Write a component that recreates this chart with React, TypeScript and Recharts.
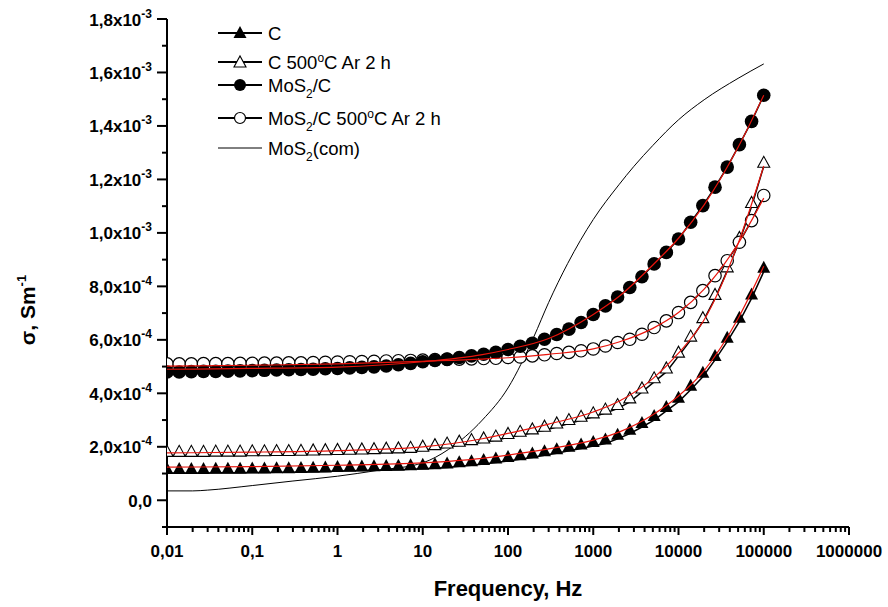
import React from 'react';
import { ComposedChart, Line, XAxis, YAxis, Legend } from 'recharts';

// measured frequency points, Hz (7 per decade)
const freq = [
  0.01, 0.0139, 0.0193, 0.0268, 0.0373, 0.0518, 0.072,
  0.1, 0.139, 0.193, 0.268, 0.373, 0.518, 0.72,
  1, 1.39, 1.93, 2.68, 3.73, 5.18, 7.2,
  10, 13.9, 19.3, 26.8, 37.3, 51.8, 72,
  100, 139, 193, 268, 373, 518, 720,
  1000, 1389, 1931, 2683, 3728, 5179, 7197,
  10000, 13895, 19307, 26827, 37276, 51795, 71969,
  100000,
];

// conductivity, x1e-4 S/m
const sigmaC = [
  1.02, 1.02, 1.02, 1.02, 1.03, 1.03, 1.03,
  1.04, 1.04, 1.05, 1.05, 1.06, 1.07, 1.08,
  1.09, 1.1, 1.11, 1.12, 1.13, 1.14, 1.16,
  1.18, 1.2, 1.23, 1.27, 1.31, 1.36, 1.41,
  1.47, 1.53, 1.6, 1.68, 1.76, 1.85, 1.94,
  2.03, 2.12, 2.3, 2.49, 2.74, 3.0, 3.34,
  3.68, 4.13, 4.62, 5.25, 5.93, 6.68, 7.55,
  8.55,
];
const sigmaC500 = [
  1.68, 1.68, 1.68, 1.68, 1.69, 1.69, 1.69,
  1.7, 1.7, 1.71, 1.71, 1.72, 1.73, 1.74,
  1.75, 1.76, 1.77, 1.78, 1.8, 1.81, 1.83,
  1.87, 1.93, 1.99, 2.06, 2.12, 2.18, 2.25,
  2.35, 2.43, 2.52, 2.62, 2.74, 2.87, 2.99,
  3.12, 3.26, 3.43, 3.68, 4.05, 4.43, 4.8,
  5.39, 5.99, 6.68, 7.55, 8.58, 9.68, 10.99,
  12.49,
];
const sigmaMoS2C = [
  4.8, 4.8, 4.81, 4.82, 4.82, 4.83, 4.84,
  4.85, 4.86, 4.87, 4.88, 4.89, 4.9, 4.92,
  4.93, 4.95, 4.97, 4.99, 5.02, 5.07, 5.12,
  5.18, 5.23, 5.28, 5.34, 5.4, 5.46, 5.53,
  5.64, 5.76, 5.87, 6.02, 6.2, 6.4, 6.65,
  6.95, 7.27, 7.6, 7.96, 8.36, 8.84, 9.27,
  9.77, 10.4, 11.02, 11.71, 12.46, 13.3, 14.17,
  15.15,
];
const sigmaMoS2C500 = [
  5.1, 5.1, 5.1, 5.11, 5.11, 5.11, 5.12,
  5.12, 5.13, 5.13, 5.14, 5.14, 5.15, 5.16,
  5.17, 5.18, 5.19, 5.2, 5.21, 5.22, 5.23,
  5.24, 5.26, 5.27, 5.28, 5.29, 5.3, 5.31,
  5.34, 5.36, 5.4, 5.44, 5.49, 5.53, 5.59,
  5.66, 5.77, 5.9, 6.02, 6.21, 6.46, 6.71,
  7.02, 7.4, 7.84, 8.4, 8.96, 9.65, 10.46,
  11.4,
];

// fitted curves (red)
const fitFreq = [0.01, 0.1, 1, 10, 50, 100, 300, 1000, 2000, 5000, 10000, 20000, 50000, 100000];
const fitC = [1.24, 1.26, 1.31, 1.4, 1.57, 1.69, 1.92, 2.25, 2.55, 3.2, 3.9, 4.85, 6.8, 8.75];
const fitC500 = [1.77, 1.8, 1.86, 2.0, 2.3, 2.5, 2.85, 3.3, 3.7, 4.55, 5.5, 6.75, 9.6, 12.5];
const fitMoS2C = [4.9, 4.93, 4.98, 5.18, 5.45, 5.64, 6.05, 6.95, 7.62, 8.8, 9.8, 11.05, 13.2, 15.15];
const fitMoS2C500 = [5.02, 5.05, 5.1, 5.2, 5.28, 5.33, 5.46, 5.66, 5.92, 6.43, 7.02, 7.9, 9.6, 11.3];

// commercial MoS2
const comFreq = [0.01, 0.02, 0.03, 0.1, 0.3, 1, 3, 10, 20, 50, 100, 200, 300, 500, 1000, 2000, 3000, 5000, 10000, 20000, 50000, 100000];
const comSigma = [0.35, 0.35, 0.38, 0.55, 0.72, 0.9, 1.12, 1.4, 1.9, 3.0, 4.2, 6.1, 7.4, 8.85, 10.5, 11.8, 12.49, 13.27, 14.23, 14.98, 15.78, 16.32];

const xMajor = [0.01, 0.1, 1, 10, 100, 1000, 10000, 100000, 1000000];
const xLabels = ['0,01', '0,1', '1', '10', '100', '1000', '10000', '100000', '1000000'];
const yMajor = [0, 2, 4, 6, 8, 10, 12, 14, 16, 18];
const yMantissa = ['0,0', '2,0', '4,0', '6,0', '8,0', '1,0', '1,2', '1,4', '1,6', '1,8'];
const yExponent = ['', '-4', '-4', '-4', '-4', '-3', '-3', '-3', '-3', '-3'];

const font = '"Liberation Sans", Arial, sans-serif';
const red = '#e8140c';

const toRows = (xs: number[], ys: number[]) => xs.map((f, i) => ({ f, v: ys[i] }));

const xTicks: number[] = [];
xMajor.forEach((d, i) => {
  xTicks.push(d);
  if (i < xMajor.length - 1) for (let m = 2; m < 10; m++) xTicks.push(+(d * m).toPrecision(3));
});
const yTicks: number[] = [];
for (let v = -1; v <= 18; v++) yTicks.push(v);

type Shape = 'triUp' | 'triOpen' | 'dot' | 'ring';

function Marker({ cx, cy, shape, legend }: { cx: number; cy: number; shape: Shape; legend?: boolean }) {
  if (shape === 'dot') return <circle cx={cx} cy={cy} r={legend ? 6 : 6.8} fill="#000" />;
  if (shape === 'ring') return <circle cx={cx} cy={cy} r={legend ? 5.5 : 6.2} fill="#fff" stroke="#000" strokeWidth={1.2} />;
  // triangles sit on the data point in the plot, centred in the legend
  const base = legend ? cy + 5 : cy + 1;
  const h = shape === 'triUp' ? 12 : 11;
  const w = shape === 'triUp' ? 6.5 : 6;
  const pts = `${cx - w},${base} ${cx + w},${base} ${cx},${base - h}`;
  return shape === 'triUp'
    ? <polygon points={pts} fill="#000" />
    : <polygon points={pts} fill="#fff" stroke="#000" strokeWidth={1.1} />;
}

const dotFor = (shape: Shape) => (p: any) =>
  <Marker key={p.index} cx={p.cx} cy={p.cy} shape={shape} />;

const XTick = ({ x, y, payload }: any) => {
  const i = xMajor.indexOf(payload.value);
  return (
    <g>
      <line x1={x} x2={x} y1={y} y2={y + (i >= 0 ? 8 : 5)} stroke="#000" strokeWidth={2} />
      {i >= 0 && (
        <text x={x} y={y + 30} textAnchor="middle" fontFamily={font} fontWeight="bold" fontSize={17} fill="#000">
          {xLabels[i]}
        </text>
      )}
    </g>
  );
};

const YTick = ({ x, y, payload }: any) => {
  const i = yMajor.indexOf(payload.value);
  return (
    <g>
      <line x1={x - (i >= 0 ? 10 : 5)} x2={x} y1={y} y2={y} stroke="#000" strokeWidth={2} />
      {i >= 0 && (
        <text x={x - 15} y={y + 6.5} textAnchor="end" fontFamily={font} fontWeight="bold" fontSize={17} fill="#000">
          {yMantissa[i]}
          {yExponent[i] && <>x10<tspan dy={-8} fontSize={12}>{yExponent[i]}</tspan></>}
        </text>
      )}
    </g>
  );
};

const legendRows: { shape: Shape | 'line'; y: number; parts: [string, string?][] }[] = [
  { shape: 'triUp', y: 23, parts: [['C']] },
  { shape: 'triOpen', y: 52, parts: [['C 500'], ['o', 'sup'], ['C Ar 2 h']] },
  { shape: 'dot', y: 75, parts: [['MoS'], ['2', 'sub'], ['/C']] },
  { shape: 'ring', y: 108, parts: [['MoS'], ['2', 'sub'], ['/C 500'], ['o', 'sup'], ['C Ar 2 h']] },
  { shape: 'line', y: 138, parts: [['MoS'], ['2', 'sub'], ['(com)']] },
];

function LegendBox() {
  return (
    <svg width={340} height={160} style={{ overflow: 'visible', display: 'block' }}>
      {legendRows.map((r, k) => {
        let shift = 0;
        return (
          <g key={k}>
            <line x1={18} x2={62} y1={r.y} y2={r.y} stroke="#000" strokeWidth={r.shape === 'line' ? 1 : 2} />
            {r.shape !== 'line' && <Marker cx={40} cy={r.y} shape={r.shape} legend />}
            <text x={68} y={r.y + 6.5} fontFamily={font} fontSize={18.5} fill="#000">
              {r.parts.map(([t, kind], j) => {
                const target = kind === 'sub' ? 6 : kind === 'sup' ? -7 : 0;
                const dy = target - shift;
                shift = target;
                return (
                  <tspan key={j} dy={dy} fontSize={kind ? 12 : 18.5}>{t}</tspan>
                );
              })}
            </text>
          </g>
        );
      })}
    </svg>
  );
}

const fitProps = {
  dataKey: 'v',
  type: 'monotone' as const,
  stroke: red,
  strokeWidth: 1.2,
  dot: false,
  activeDot: false,
  legendType: 'none' as const,
  isAnimationActive: false,
  zIndex: 700,
};

export default function App() {
  return (
    <div style={{ position: 'absolute', left: 0, top: 0 }}>
      <ComposedChart width={888} height={607} margin={{ top: 19, right: 39, bottom: 0, left: 0 }}>
        <XAxis
          dataKey="f"
          type="number"
          scale="log"
          domain={[0.01, 1000000]}
          allowDataOverflow
          ticks={xTicks}
          interval={0}
          tickSize={0}
          tickMargin={0}
          tick={<XTick />}
          height={80}
          axisLine={{ stroke: '#000', strokeWidth: 2 }}
          label={{
            content: () => (
              <text x={508} y={596} textAnchor="middle" fontFamily={font} fontWeight="bold" fontSize={22} fill="#000">
                Frequency, Hz
              </text>
            ),
          }}
        />
        <YAxis
          type="number"
          domain={[-1, 18]}
          allowDataOverflow
          ticks={yTicks}
          interval={0}
          tickSize={0}
          tickMargin={0}
          tick={<YTick />}
          width={167}
          axisLine={{ stroke: '#000', strokeWidth: 2 }}
          label={{
            content: () => (
              <text transform="translate(35,310) rotate(-90)" textAnchor="middle" fontFamily={font} fontWeight="bold" fontSize={21} fill="#000">
                σ, Sm<tspan dy={-9} fontSize={13}>-1</tspan>
              </text>
            ),
          }}
        />
        <Legend
          layout="vertical"
          align="center"
          verticalAlign="middle"
          wrapperStyle={{ left: 200, top: 10, width: 340, height: 160 }}
          content={() => <LegendBox />}
        />
        <Line data={toRows(comFreq, comSigma)} dataKey="v" name="MoS2(com)" type="monotone" stroke="#000" strokeWidth={1} dot={false} activeDot={false} isAnimationActive={false} />
        <Line data={toRows(freq, sigmaC)} dataKey="v" name="C" type="linear" stroke="#000" strokeWidth={1.5} dot={dotFor('triUp')} activeDot={false} isAnimationActive={false} />
        <Line data={toRows(freq, sigmaC500)} dataKey="v" name="C 500°C Ar 2 h" type="linear" stroke="#000" strokeWidth={1.5} dot={dotFor('triOpen')} activeDot={false} isAnimationActive={false} />
        <Line data={toRows(freq, sigmaMoS2C500)} dataKey="v" name="MoS2/C 500°C Ar 2 h" type="linear" stroke="#000" strokeWidth={1.5} dot={dotFor('ring')} activeDot={false} isAnimationActive={false} />
        <Line data={toRows(freq, sigmaMoS2C)} dataKey="v" name="MoS2/C" type="linear" stroke="#000" strokeWidth={1.5} dot={dotFor('dot')} activeDot={false} isAnimationActive={false} />
        <Line data={toRows(fitFreq, fitC)} {...fitProps} />
        <Line data={toRows(fitFreq, fitC500)} {...fitProps} />
        <Line data={toRows(fitFreq, fitMoS2C)} {...fitProps} />
        <Line data={toRows(fitFreq, fitMoS2C500)} {...fitProps} />
      </ComposedChart>
    </div>
  );
}
